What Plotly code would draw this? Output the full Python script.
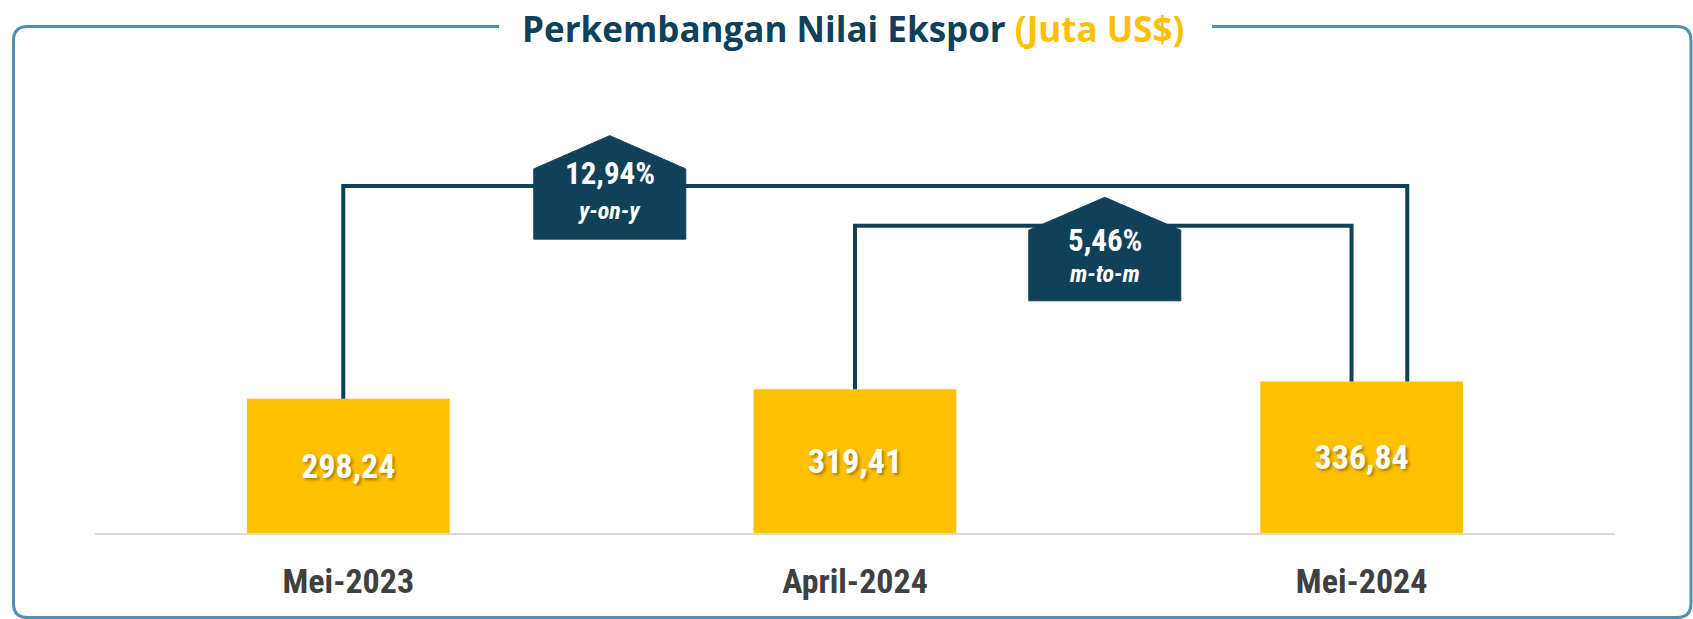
import plotly.graph_objects as go

# data
categories = ["Mei-2023", "April-2024", "Mei-2024"]
export_values = [298.24, 319.41, 336.84]
change_labels = ["12,94%", "5,46%"]
change_kinds = ["y-on-y", "m-to-m"]
change_pairs = [(0, 2), (1, 2)]

W, H = 1693, 619
NAVY = "#0f4159"
GOLD = "#ffc000"
FRAME = "#5090b2"
NARROW = "Roboto Condensed, Liberation Sans Narrow, Arial Narrow, Roboto, sans-serif"

def px(x):
    return x / W

def py(y):
    return 1 - y / H

xs = list(range(len(categories)))
bar_text = ["<b>" + f"{v:.2f}".replace(".", ",") + "</b>" for v in export_values]

fig = go.Figure()
fig.add_trace(go.Bar(
    x=xs, y=export_values, width=0.4,
    marker=dict(color=GOLD, line_width=0),
    text=bar_text, textposition="inside", insidetextanchor="middle",
    textfont=dict(family=NARROW, size=34, color="white",
                  shadow="2px 2px 3px rgba(0,0,0,0.35)"),
    hoverinfo="skip", showlegend=False,
))

# connector brackets: x offsets of the legs, bracket level, badge centre / shape
connectors = [
    dict(dx0=-0.01, dx1=0.09, level=771, cx=0.516, peak=883, shoulder=809, bottom=653,
         ytop=799, ybot=716),
    dict(dx0=0.0, dx1=-0.02, level=683, cx=1.493, peak=746, shoulder=673, bottom=516,
         ytop=649, ybot=576),
]

shapes = []
annotations = []
for (a, b), lab, kind, c in zip(change_pairs, change_labels, change_kinds, connectors):
    x0 = xs[a] + c["dx0"]
    x1 = xs[b] + c["dx1"]
    shapes.append(dict(
        type="path", xref="x", yref="y",
        path=f"M {x0},{export_values[a]} L {x0},{c['level']} L {x1},{c['level']} L {x1},{export_values[b]}",
        line=dict(color=NAVY, width=4),
    ))
    hw = 0.15
    cx = c["cx"]
    shapes.append(dict(
        type="path", xref="x", yref="y",
        path=(f"M {cx-hw},{c['bottom']} L {cx-hw},{c['shoulder']} L {cx},{c['peak']} "
              f"L {cx+hw},{c['shoulder']} L {cx+hw},{c['bottom']} Z"),
        fillcolor=NAVY, line=dict(color=NAVY, width=1),
    ))
    annotations.append(dict(
        x=cx, y=c["ytop"], xref="x", yref="y", text=f"<b>{lab}</b>", showarrow=False,
        font=dict(family=NARROW, size=31, color="white"), yanchor="middle",
    ))
    annotations.append(dict(
        x=cx, y=c["ybot"], xref="x", yref="y", text=f"<b><i>{kind}</i></b>", showarrow=False,
        font=dict(family=NARROW, size=24, color="white"), yanchor="middle",
    ))

# rounded frame with a gap for the title
l, r, t, b, rad = 13.5, 1691, 26.5, 617.5, 14
gap0, gap1 = 499, 1212
rx, ry = rad / W, rad / H
frame = (
    f"M {px(gap1)},{py(t)} L {px(r)-rx},{py(t)} Q {px(r)},{py(t)} {px(r)},{py(t)-ry} "
    f"L {px(r)},{py(b)+ry} Q {px(r)},{py(b)} {px(r)-rx},{py(b)} "
    f"L {px(l)+rx},{py(b)} Q {px(l)},{py(b)} {px(l)},{py(b)+ry} "
    f"L {px(l)},{py(t)-ry} Q {px(l)},{py(t)} {px(l)+rx},{py(t)} L {px(gap0)},{py(t)}"
)
shapes.append(dict(type="path", xref="paper", yref="paper", path=frame,
                   line=dict(color=FRAME, width=3), layer="below"))

annotations.append(dict(
    x=px(853), y=py(29), xref="paper", yref="paper", showarrow=False,
    text=f"<b>Perkembangan Nilai Ekspor <span style='color:{GOLD}'>(Juta US$)</span></b>",
    font=dict(family="Open Sans, sans-serif", size=35, color=NAVY),
    xanchor="center", yanchor="middle",
))

fig.update_layout(
    width=W, height=H, margin=dict(l=0, r=0, t=0, b=0, autoexpand=False),
    paper_bgcolor="white", plot_bgcolor="white",
    shapes=shapes, annotations=annotations,
    xaxis=dict(domain=[px(95), px(1615)], range=[-0.5, 2.5], automargin=False,
               tickvals=xs, ticktext=[f"<b>{c}</b>" for c in categories],
               tickfont=dict(family=NARROW, size=34, color="#404040"),
               ticklabelstandoff=17, showline=True, linecolor="#d9d9d9", linewidth=2,
               showgrid=False, zeroline=False, fixedrange=True),
    yaxis=dict(domain=[py(533), py(83)], range=[0, 1000], visible=False,
               automargin=False, showgrid=False, fixedrange=True),
)

fig.write_html("out.html", config={"displayModeBar": False},
               post_script="document.body.style.margin='0';document.body.style.overflow='hidden';")
